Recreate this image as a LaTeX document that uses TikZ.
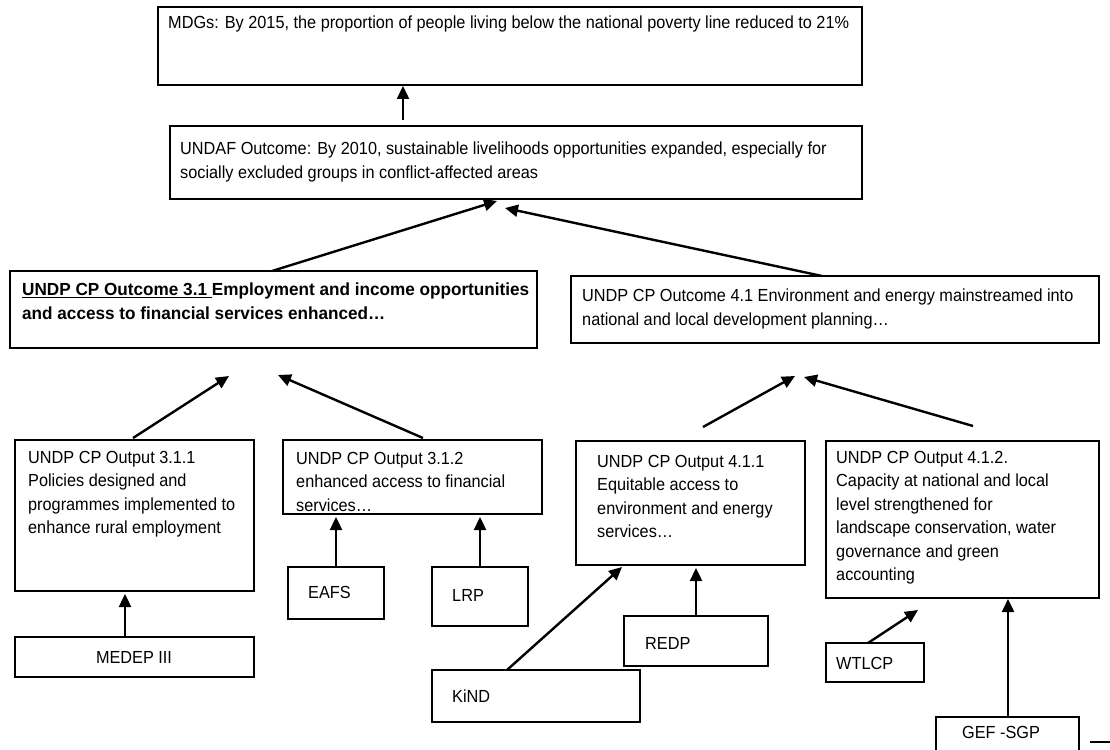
\documentclass[tikz,border=0pt]{standalone}
\usepackage{fontspec}
\setmainfont{Liberation Sans}[FakeStretch=0.93]
\newfontfamily\boldfam{Liberation Sans}[FakeStretch=0.98]
\usetikzlibrary{arrows.meta,calc}
\tikzset{
  box/.style={draw=black, line width=1.6pt, anchor=north west, inner sep=0pt, outer sep=0pt},
  txt/.style={anchor=north west, inner sep=0pt, align=left, font=\fontsize{17.5}{23.5}\selectfont},
  arr/.style={line width=2.4pt, -{Triangle[length=13pt,width=12pt]}},
}
\begin{document}
\begin{tikzpicture}[x=1pt,y=-1pt]
\useasboundingbox (0,0) rectangle (1110,749);
% boxes
\node[box, minimum width=704pt, minimum height=78pt] (mdg) at (158,7) {};
\node[box, minimum width=692pt, minimum height=73pt] (undaf) at (170,126) {};
\node[box, minimum width=527pt, minimum height=77pt] (o31) at (10,271) {};
\node[box, minimum width=528pt, minimum height=67pt] (o41) at (571,276) {};
\node[box, minimum width=239pt, minimum height=151pt] (o311) at (15,440) {};
\node[box, minimum width=259pt, minimum height=74pt] (o312) at (283,440) {};
\node[box, minimum width=229pt, minimum height=124pt] (o411) at (576,441) {};
\node[box, minimum width=273pt, minimum height=157pt] (o412) at (826,441) {};
\node[box, minimum width=239pt, minimum height=40pt] (medep) at (15,637) {};
\node[box, minimum width=96pt, minimum height=52pt] (eafs) at (288,567) {};
\node[box, minimum width=96pt, minimum height=59pt] (lrp) at (432,567) {};
\node[box, minimum width=208pt, minimum height=52pt] (kind) at (432,670) {};
\node[box, minimum width=144pt, minimum height=50pt] (redp) at (624,616) {};
\node[box, minimum width=98pt, minimum height=39pt] (wtlcp) at (826,643) {};
\node[box, minimum width=143pt, minimum height=40pt] (gef) at (936,717) {};
% texts
\node[txt] (mdg-t) at (168,16) {MDGs: By 2015, the proportion of people living below the national poverty line reduced to 21\%};
\node[txt] (undaf-t) at (180,142) {UNDAF Outcome: By 2010, sustainable livelihoods opportunities expanded, especially for\\socially excluded groups in conflict-affected areas};
\node[txt, font=\fontsize{17.5}{23.5}\selectfont\boldfam\bfseries] (o31-t) at (22,283) {\underline{UNDP CP Outcome 3.1\ }Employment and income opportunities\\and access to financial services enhanced\ldots};
\node[txt] (o41-t) at (582,289) {UNDP CP Outcome 4.1 Environment and energy mainstreamed into\\national and local development planning\ldots};
\node[txt] (o311-t) at (28,451) {UNDP CP Output 3.1.1\\Policies designed and\\programmes implemented to\\enhance rural employment};
\node[txt] (o312-t) at (296,452) {UNDP CP Output 3.1.2\\enhanced access to financial\\services\ldots};
\node[txt] (o411-t) at (597,455) {UNDP CP Output 4.1.1\\Equitable access to\\environment and energy\\services\ldots};
\node[txt] (o412-t) at (836,451) {UNDP CP Output 4.1.2.\\Capacity at national and local\\level strengthened for\\landscape conservation, water\\governance and green\\accounting};
\node[txt, anchor=north] (medep-t) at (134,651) {MEDEP III};
\node[txt] (eafs-t) at (308,586) {EAFS};
\node[txt] (lrp-t) at (452,589) {LRP};
\node[txt] (kind-t) at (452,690) {KiND};
\node[txt] (redp-t) at (645,637) {REDP};
\node[txt] (wtlcp-t) at (836,657) {WTLCP};
\node[txt] (gef-t) at (962,726) {GEF -SGP};
% arrow tips
\coordinate (t-mdg) at (403,86);
\coordinate (t-u1) at (497,201);
\coordinate (t-u2) at (505,208);
\coordinate (t-31a) at (229,376);
\coordinate (t-31b) at (278,375);
\coordinate (t-41a) at (795,376);
\coordinate (t-41b) at (804,377);
\coordinate (t-311) at (125,594);
\coordinate (t-312a) at (336,517);
\coordinate (t-312b) at (480,517);
\coordinate (t-411a) at (622,567);
\coordinate (t-411b) at (696,568);
\coordinate (t-412a) at (918,610);
\coordinate (t-412b) at (1008,599);
% arrows
\draw[arr] ($(undaf.north west)+(233,-6)$) -- (t-mdg);
\draw[arr] ($(o31.north west)+(262,0)$) -- (t-u1);
\draw[arr] ($(o41.north west)+(251,0)$) -- (t-u2);
\draw[arr] ($(o311.north west)+(118,-2)$) -- (t-31a);
\draw[arr] ($(o312.north west)+(140,-2)$) -- (t-31b);
\draw[arr] ($(o411.north west)+(127,-14)$) -- (t-41a);
\draw[arr] ($(o412.north west)+(147,-15)$) -- (t-41b);
\draw[arr] ($(medep.north west)+(110,0)$) -- (t-311);
\draw[arr] ($(eafs.north west)+(48,0)$) -- (t-312a);
\draw[arr] ($(lrp.north west)+(48,0)$) -- (t-312b);
\draw[arr] ($(kind.north west)+(75,0)$) -- (t-411a);
\draw[arr] ($(redp.north west)+(72,0)$) -- (t-411b);
\draw[arr] ($(wtlcp.north west)+(42,0)$) -- (t-412a);
\draw[arr] ($(gef.north west)+(72,0)$) -- (t-412b);
% stray short line
\coordinate (s1) at (1090,742);
\coordinate (s2) at (1110,742);
\draw[line width=1.6pt] (s1) -- (s2);
\end{tikzpicture}
\end{document}
